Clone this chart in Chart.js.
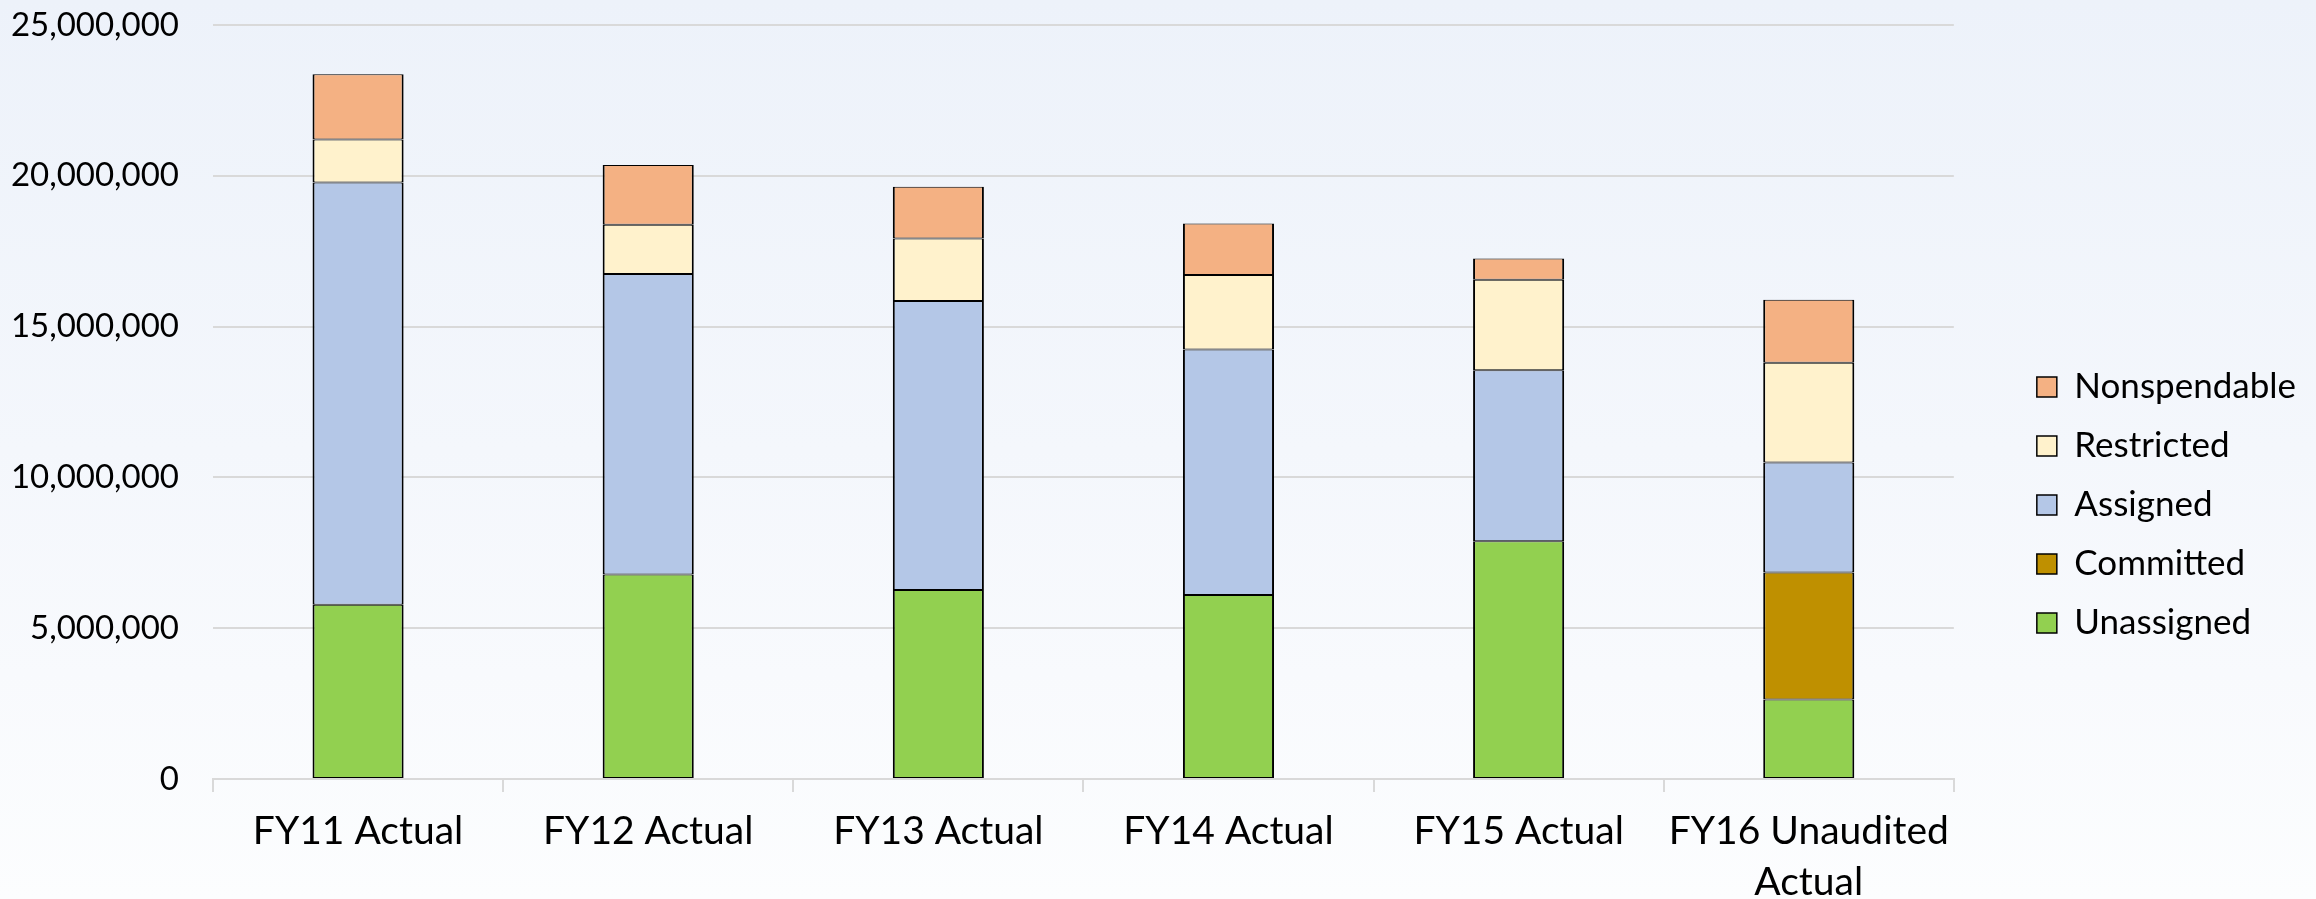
<!DOCTYPE html>
<html>
    <head>
        <meta content="text/html;charset=utf-8" http-equiv="Content-Type">
        <script src="https://cdn.jsdelivr.net/npm/chart.js@4/dist/chart.umd.min.js"></script>
        <style type="text/css">
            body{
                margin: 0px;
            }
            #container{
                width: 2316px;
                height: 899px;
                background: linear-gradient(to bottom, #edf2fa 0%, #f4f7fc 50%, #fcfdfe 100%);
            }
        </style>
    </head>
    <body>
        <div id='container'>
            <canvas id="myChart"></canvas>
        </div>
        <script>
            // fund balance by category
            var categories = ['FY11 Actual', 'FY12 Actual', 'FY13 Actual', 'FY14 Actual', 'FY15 Actual', ['FY16 Unaudited', 'Actual']];
            var unassigned   = [5780000, 6780000, 6270000, 6100000, 7880000, 2640000];
            var committed    = [null, null, null, null, null, 4210000];
            var assigned     = [14000000, 9960000, 9580000, 8140000, 5670000, 3640000];
            var restricted   = [1420000, 1640000, 2070000, 2470000, 3000000, 3310000];
            var nonspendable = [2170000, 1980000, 1720000, 1710000, 710000, 2090000];
            var yTicks = [0, 5000000, 10000000, 15000000, 20000000, 25000000];

            var font = 'Lato';
            var gridColor = '#d9d9d9';

            function series(label, data, color){
                return {
                    label: label,
                    data: data,
                    backgroundColor: color,
                    borderColor: '#000000',
                    borderWidth: {top: 1, bottom: 1, left: 2, right: 2},
                    borderSkipped: false,
                    categoryPercentage: 1.0,
                    barPercentage: 0.314
                };
            }

            var ctx = document.getElementById("myChart").getContext('2d');
            var chart = new Chart(ctx, {
                type: 'bar',
                data: {
                    labels: categories,
                    datasets: [
                        series('Unassigned', unassigned, '#92d050'),
                        series('Committed', committed, '#bf9000'),
                        series('Assigned', assigned, '#b4c7e7'),
                        series('Restricted', restricted, '#fff2cc'),
                        series('Nonspendable', nonspendable, '#f4b183')
                    ]
                },
                options: {
                    responsive: true,
                    maintainAspectRatio: false,
                    animation: false,
                    layout: {
                        padding: {top: 25, right: 10, left: 0, bottom: 0}
                    },
                    plugins: {
                        tooltip: {enabled: false},
                        legend: {
                            position: 'right',
                            reverse: true,
                            title: {
                                display: true,
                                text: '',
                                padding: {top: 85, bottom: 0},
                                font: {size: 1, lineHeight: 1}
                            },
                            labels: {
                                color: '#000000',
                                boxWidth: 20,
                                boxHeight: 20,
                                padding: 24,
                                font: {family: font, size: 35}
                            }
                        }
                    },
                    scales: {
                        x: {
                            stacked: true,
                            grid: {
                                display: true,
                                drawOnChartArea: false,
                                tickLength: 13,
                                color: gridColor,
                                lineWidth: 2
                            },
                            border: {display: true, color: gridColor, width: 2},
                            ticks: {
                                color: '#000000',
                                padding: 13,
                                maxRotation: 0,
                                autoSkip: false,
                                font: {family: font, size: 39, lineHeight: 1.33}
                            },
                            afterFit: function(scale){ scale.height = 120; }
                        },
                        y: {
                            stacked: true,
                            min: 0,
                            max: 25000000,
                            afterBuildTicks: function(scale){
                                scale.ticks = yTicks.map(function(v){ return {value: v}; });
                            },
                            grid: {
                                color: gridColor,
                                lineWidth: 2,
                                drawTicks: true,
                                tickLength: 30,
                                tickColor: 'rgba(0,0,0,0)'
                            },
                            border: {display: false},
                            ticks: {
                                color: '#000000',
                                padding: 4,
                                font: {family: font, size: 33},
                                callback: function(v){ return v.toLocaleString('en-US'); }
                            },
                            afterFit: function(scale){ scale.width = 213; }
                        },
                        gap: {
                            type: 'linear',
                            position: 'right',
                            grid: {display: false},
                            border: {display: false},
                            ticks: {display: false},
                            afterFit: function(scale){ scale.width = 59; }
                        }
                    }
                }
            });
        </script>
    </body>
</html>
